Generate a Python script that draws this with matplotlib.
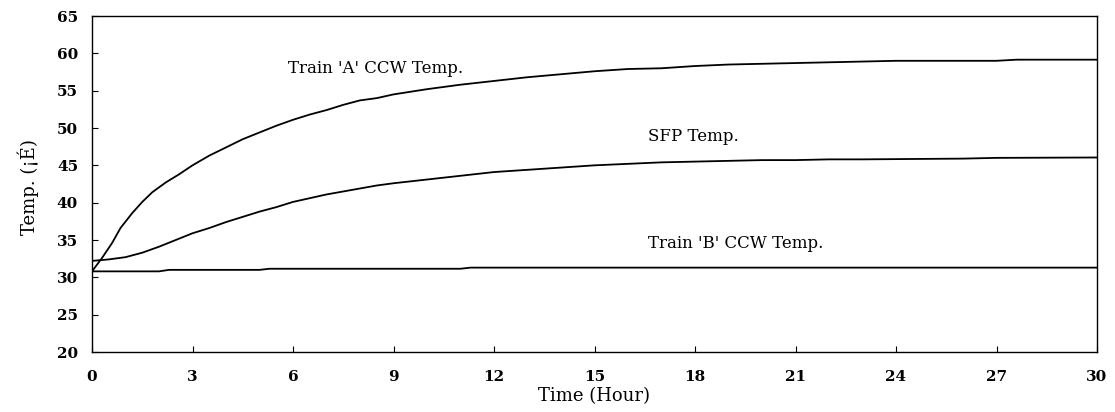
import numpy as np
import matplotlib.pyplot as plt

# hours and temperatures
hours_a = [0, 0.3, 0.6, 0.85, 1.2, 1.5, 1.8, 2.2, 2.6, 3, 3.5, 4, 4.5, 5, 5.5, 6, 6.5, 7,
           7.5, 8, 8.5, 9, 10, 11, 12, 13, 14, 15, 16, 17, 18, 19, 20, 21, 22, 23, 24, 27, 27.6, 30]
train_a = [30.8, 32.6, 34.6, 36.6, 38.6, 40.1, 41.4, 42.7, 43.8, 45.0, 46.3, 47.4, 48.5, 49.4,
           50.3, 51.1, 51.8, 52.4, 53.1, 53.7, 54.0, 54.5, 55.2, 55.8, 56.3, 56.8, 57.2, 57.6,
           57.9, 58.0, 58.3, 58.5, 58.6, 58.7, 58.8, 58.9, 59.0, 59.0, 59.15, 59.15]

hours_sfp = [0, 0.5, 1, 1.5, 2, 2.5, 3, 3.5, 4, 4.5, 5, 5.5, 6, 6.5, 7, 7.5, 8, 8.5, 9, 10,
             11, 12, 13, 14, 15, 16, 17, 18, 19, 20, 21, 22, 23, 26, 27, 30]
sfp = [32.2, 32.4, 32.7, 33.3, 34.1, 35.0, 35.9, 36.6, 37.4, 38.1, 38.8, 39.4, 40.1, 40.6,
       41.1, 41.5, 41.9, 42.3, 42.6, 43.1, 43.6, 44.1, 44.4, 44.7, 45.0, 45.2, 45.4, 45.5,
       45.6, 45.7, 45.7, 45.8, 45.8, 45.9, 46.0, 46.05]

hours_b = [0, 2.0, 2.3, 5.0, 5.3, 11.0, 11.3, 30]
train_b = [30.8, 30.8, 31.0, 31.0, 31.15, 31.15, 31.3, 31.3]

xticks = np.arange(0, 31, 3)
yticks = np.arange(20, 66, 5)

plt.rcParams['font.family'] = ['DejaVu Serif']

fig = plt.figure(figsize=(11.15, 4.12), dpi=100)
ax = fig.add_axes([92 / 1115, 1 - 352 / 412, (1097 - 92) / 1115, (352 - 16) / 412])

for x, y in [(hours_a, train_a), (hours_sfp, sfp), (hours_b, train_b)]:
    ax.plot(x, y, color='black', linewidth=1.3)

ax.set_xlim(0, 30)
ax.set_ylim(20, 65)
ax.set_xticks(xticks)
ax.set_yticks(yticks)
ax.tick_params(direction='in', length=4, labelsize=11)
ax.tick_params(axis='x', pad=13)
ax.tick_params(axis='y', pad=10)
for lab in ax.get_xticklabels() + ax.get_yticklabels():
    lab.set_fontweight('bold')
for s in ax.spines.values():
    s.set_linewidth(1.0)

ax.set_xlabel('Time (Hour)', fontsize=13, labelpad=2)
ax.set_ylabel('Temp. (¡É) ', fontsize=13, labelpad=13)

ax.text(5.85, 58.0, "Train 'A' CCW Temp.", fontsize=12, va='center')
ax.text(16.6, 48.8, 'SFP Temp.', fontsize=12, va='center')
ax.text(16.6, 34.5, "Train 'B' CCW Temp.", fontsize=12, va='center')

fig.savefig('out.png', dpi=100)
